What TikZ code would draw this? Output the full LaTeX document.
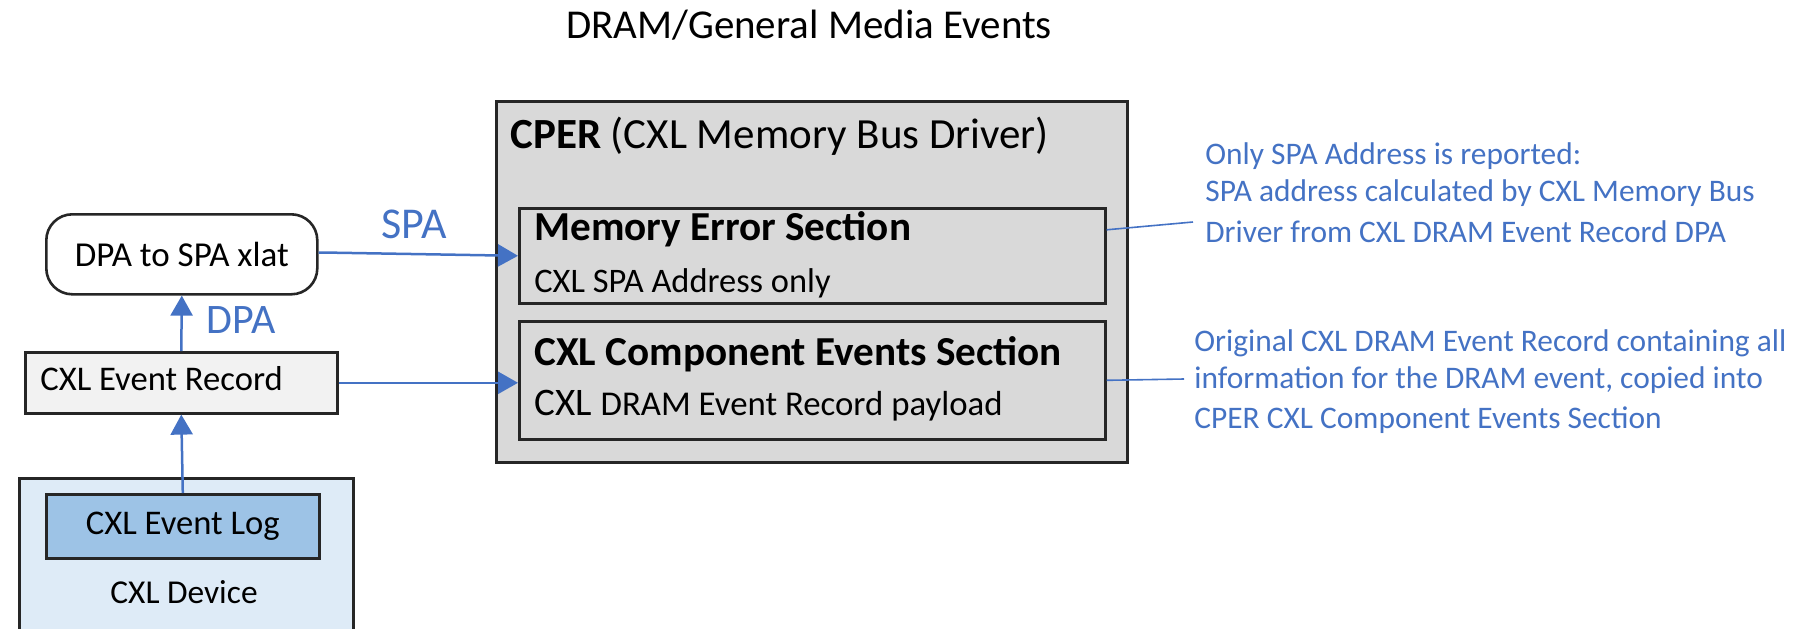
\documentclass[tikz,border=0pt]{standalone}
\usepackage{fontspec}
\setmainfont{Carlito}
\usetikzlibrary{arrows.meta}
\definecolor{flowblue}{HTML}{4472C4}
\definecolor{boxline}{HTML}{262626}
\definecolor{cpergray}{HTML}{D9D9D9}
\definecolor{recgray}{HTML}{F2F2F2}
\definecolor{devblue}{HTML}{DEEBF7}
\definecolor{logblue}{HTML}{9DC3E6}
\newcommand{\fs}[1]{\fontsize{#1}{#1}\selectfont}
\begin{document}
\begin{tikzpicture}[x=0.5pt,y=-0.5pt,
  box/.style={draw=boxline, line width=1.3pt, inner sep=0pt, anchor=north west},
  lbl/.style={inner sep=0pt, anchor=base west},
  flow/.style={draw=flowblue, line width=1.25pt, -{Triangle[length=10pt,width=11pt]}},
  note/.style={text=flowblue, font=\fs{15.7}, anchor=base west, inner sep=0pt},
  noteline/.style={draw=flowblue, line width=0.8pt}]
\useasboundingbox (0,0) rectangle (1811,628);

% heading
\node[anchor=base, inner sep=0pt, font=\fs{20.5}] (title) at (809,38) {DRAM/General Media Events};

% CPER container and its two sections
\node[box, fill=cpergray, minimum width=315.5pt, minimum height=180.5pt] (cper) at (495,100) {};
\node[lbl, font=\fs{21.5}] (cpertitle) at (510,148) {\textbf{CPER} (CXL Memory Bus Driver)};

\node[box, fill=cpergray, minimum width=293pt, minimum height=47.5pt] (mes) at (518,207) {};
\node[lbl, font=\fs{20.6}\bfseries] (mestitle) at (534,240) {Memory Error Section};
\node[lbl, font=\fs{17.2}] (mestext) at (534,292) {CXL SPA Address only};

\node[box, fill=cpergray, minimum width=293pt, minimum height=59pt] (cces) at (518,320) {};
\node[lbl, font=\fs{20.6}\bfseries] (ccestitle) at (534,365) {CXL Component Events Section};
\node[lbl, font=\fs{19.5}] (ccestext) at (534,415) {CXL {\fs{17.4}DRAM Event Record payload}};

% device side
\node[box, fill=white, rounded corners=13pt, minimum width=135.5pt, minimum height=40pt, font=\fs{17.5}] (xlat) at (45,213) {DPA to SPA xlat};
\node[box, fill=recgray, minimum width=156pt, minimum height=30.5pt] (rec) at (24,351) {};
\node[lbl, font=\fs{17.3}] (rectext) at (40,390) {CXL Event Record};
\node[box, fill=devblue, minimum width=167pt, minimum height=82pt] (dev) at (18,477) {};
\node[box, fill=logblue, minimum width=136.5pt, minimum height=32pt, font=\fs{17.3}] (log) at (45,493) {CXL Event Log};
\node[anchor=base, inner sep=0pt, font=\fs{16.7}] (devtext) at (184,603) {CXL Device};

% data flow
\draw[flow] (log.north) -- (rec.south);
\draw[flow] (rec.north) -- (xlat.south);
\draw[flow] ([yshift=0.8pt]xlat.east) -- ++(16,0) -- (mes.west);
\draw[flow] (rec.east) -- (rec.east -| cces.west);
\node[anchor=base, inner sep=0pt, text=flowblue, font=\fs{22}] (spa) at (414,238) {SPA};
\node[anchor=base, inner sep=0pt, text=flowblue, font=\fs{21}] (dpa) at (241,333) {DPA};

% annotations
\coordinate (n1) at (1193,222);
\coordinate (n2) at (1184,379);
\draw[noteline] ([yshift=13pt]mes.east) -- (n1);
\draw[noteline] (cces.east) -- (n2);
\node[note] (a1) at (1205,164) {Only SPA Address is reported:};
\node[note] (a2) at (1205,201) {SPA address calculated by CXL Memory Bus};
\node[note] (a3) at (1205,242) {Driver from CXL DRAM Event Record DPA};
\node[note] (b1) at (1194,351) {Original CXL DRAM Event Record containing all};
\node[note] (b2) at (1194,388) {information for the DRAM event, copied into};
\node[note] (b3) at (1194,428) {CPER CXL Component Events Section};
\end{tikzpicture}
\end{document}
